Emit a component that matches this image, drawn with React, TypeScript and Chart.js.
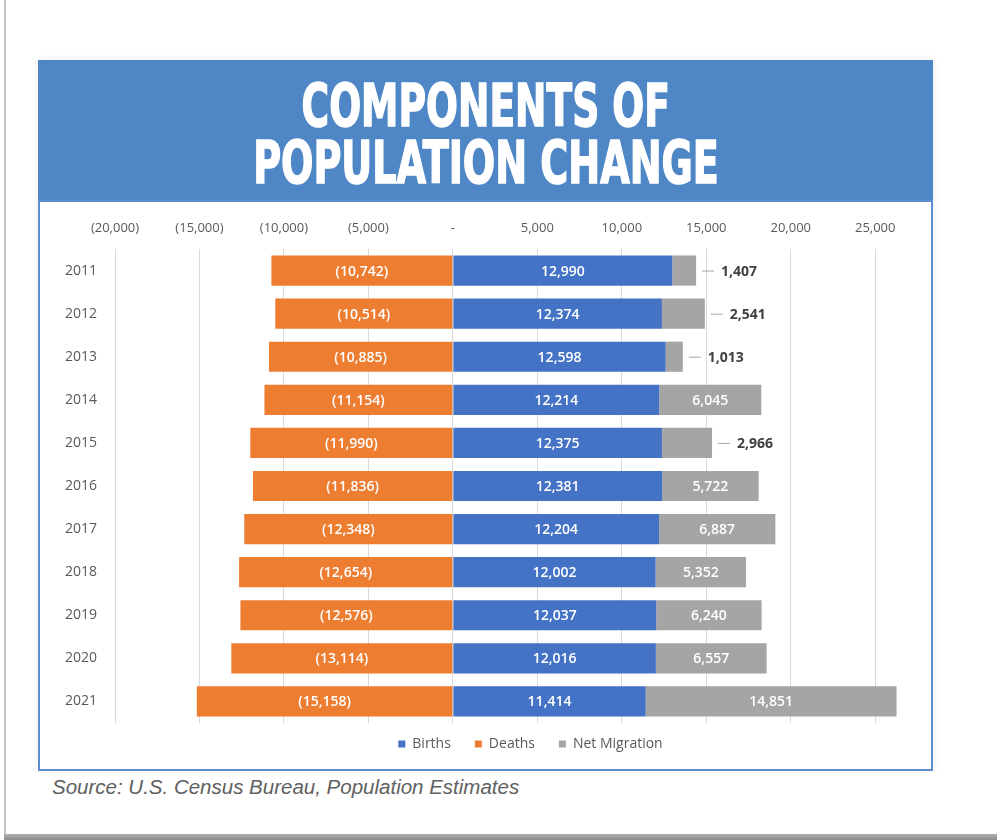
import React, { useEffect, useRef } from "react";
import { Chart, registerables } from "chart.js";

Chart.register(...registerables);

const years = ["2011", "2012", "2013", "2014", "2015", "2016", "2017", "2018", "2019", "2020", "2021"];
const births = [12990, 12374, 12598, 12214, 12375, 12381, 12204, 12002, 12037, 12016, 11414];
const deaths = [-10742, -10514, -10885, -11154, -11990, -11836, -12348, -12654, -12576, -13114, -15158];
const netMigration = [1407, 2541, 1013, 6045, 2966, 5722, 6887, 5352, 6240, 6557, 14851];
const xTickValues = [-20000, -15000, -10000, -5000, 0, 5000, 10000, 15000, 20000, 25000];
const xMin = -20000;
const xMax = 27000;

const fmt = (v: number) => {
  if (v === 0) return "-";
  const s = Math.abs(v).toLocaleString("en-US");
  return v < 0 ? `(${s})` : s;
};

const dataLabelPlugin = {
  id: "barLabels",
  afterDatasetsDraw(chart: any) {
    const ctx = chart.ctx;
    ctx.save();
    chart.data.datasets.forEach((ds: any, di: number) => {
      const meta = chart.getDatasetMeta(di);
      meta.data.forEach((el: any, i: number) => {
        const v = ds.data[i];
        const txt = fmt(v);
        const props = el.getProps(["x", "y", "base"], true);
        const left = Math.min(props.x, props.base);
        const right = Math.max(props.x, props.base);
        const w = right - left;
        ctx.textBaseline = "middle";
        if (ds.outsideBelow && v < ds.outsideBelow) {
          ctx.strokeStyle = "#a6a6a6";
          ctx.lineWidth = 1;
          ctx.beginPath();
          ctx.moveTo(right + 6, props.y + 0.5);
          ctx.lineTo(right + 18, props.y + 0.5);
          ctx.stroke();
          ctx.fillStyle = "#404040";
          ctx.font = "bold 14px 'Open Sans', sans-serif";
          ctx.textAlign = "left";
          ctx.fillText(txt, right + 25, props.y + 1);
        } else if (w > 20) {
          ctx.fillStyle = "#ffffff";
          ctx.font = "600 14px 'Open Sans', sans-serif";
          ctx.textAlign = "center";
          ctx.fillText(txt, (left + right) / 2, props.y + 1);
        }
      });
    });
    ctx.restore();
  },
};

const legendOffsetPlugin = {
  id: "legendOffset",
  afterLayout(chart: any, _args: any, opts: any) {
    const l = chart.legend;
    if (!l) return;
    l.left += opts.dx;
    l.right += opts.dx;
    l.top += opts.dy;
    l.bottom += opts.dy;
  },
};

function PopulationChart() {
  const ref = useRef<HTMLCanvasElement>(null);
  useEffect(() => {
    if (!ref.current) return;
    Chart.defaults.font.family = "'Open Sans', sans-serif";
    const chart = new Chart(ref.current, {
      type: "bar",
      data: {
        labels: years,
        datasets: [
          { label: "Births", data: births, backgroundColor: "#4472c4" },
          { label: "Deaths", data: deaths, backgroundColor: "#ed7d31" },
          { label: "Net Migration", data: netMigration, backgroundColor: "#a5a5a5", outsideBelow: 3500 } as any,
        ],
      },
      options: {
        indexAxis: "y",
        animation: false,
        responsive: false,
        maintainAspectRatio: false,
        datasets: { bar: { barPercentage: 0.7, categoryPercentage: 1 } },
        layout: { padding: { left: 0, right: 21, top: 0, bottom: 0 } },
        scales: {
          x: {
            position: "top",
            stacked: true,
            min: xMin,
            max: xMax,
            ticks: {
              padding: 13,
              color: "#595959",
              font: { size: 13 },
              autoSkip: false,
              callback: (v: any) => fmt(Number(v)),
            },
            afterBuildTicks: (s: any) => {
              s.ticks = xTickValues.map((v) => ({ value: v }));
            },
            grid: { color: "#d9d9d9", drawTicks: false, tickLength: 0 },
            border: { display: false },
            afterFit: (s: any) => {
              s.height = 47;
            },
          },
          y: {
            stacked: true,
            ticks: { padding: 18, color: "#595959", font: { size: 14 } },
            grid: { display: false, drawTicks: false },
            border: { display: false },
            afterFit: (s: any) => {
              s.width = 75;
            },
          },
        },
        plugins: {
          legend: {
            position: "bottom",
            labels: {
              boxWidth: 7,
              boxHeight: 7,
              padding: 24,
              color: "#595959",
              font: { size: 14 },
            },
          },
          legendOffset: { dx: 56, dy: -10 },
          tooltip: { enabled: false },
          title: { display: false },
        },
      },
      plugins: [dataLabelPlugin, legendOffsetPlugin],
    } as any);
    return () => chart.destroy();
  }, []);
  return <canvas ref={ref} width={890} height={569} style={{ display: "block", width: 890, height: 569 }} />;
}

export default function App() {
  const titleLine: React.CSSProperties = {
    position: "absolute",
    left: 0,
    width: "100%",
    textAlign: "center",
    fontFamily: "'Liberation Sans Narrow', 'DejaVu Sans Condensed', sans-serif",
    fontWeight: 700,
    fontSize: 58,
    lineHeight: "58px",
    color: "#ffffff",
    whiteSpace: "nowrap",
    WebkitTextStroke: "1.5px #ffffff",
  };
  const inner = (sx: number): React.CSSProperties => ({
    display: "inline-block",
    transform: `scaleX(${sx})`,
    transformOrigin: "center",
  });
  return (
    <div style={{ position: "absolute", left: 0, top: 0, width: 997, height: 840, overflow: "hidden", background: "#ffffff" }}>
      <div style={{ position: "absolute", left: 4, top: 0, width: 2, height: 836, background: "#c4c4c4" }} />
      <div style={{ position: "absolute", left: 4, top: 834, width: 993, height: 6, background: "linear-gradient(#b0b0b0, #8c8c8c)" }} />
      <div
        style={{
          position: "absolute",
          left: 38,
          top: 60,
          width: 895,
          height: 710,
          boxShadow: "0 0 8px rgba(0,0,0,0.08)",
        }}
      />
      <div style={{ position: "absolute", left: 38, top: 60, width: 895, height: 141, background: "#4f87c6" }}>
        <div style={{ ...titleLine, top: 17 }}>
          <span style={inner(0.72)}>COMPONENTS OF</span>
        </div>
        <div style={{ ...titleLine, top: 74 }}>
          <span style={inner(0.73)}>POPULATION CHANGE</span>
        </div>
      </div>
      <div
        style={{
          position: "absolute",
          left: 38,
          top: 200,
          width: 895,
          height: 571,
          border: "2px solid #5a8ed0",
          boxSizing: "border-box",
          background: "#ffffff",
        }}
      />
      <div style={{ position: "absolute", left: 40, top: 202 }}>
        <PopulationChart />
      </div>
      <div
        style={{
          position: "absolute",
          left: 52,
          top: 775,
          fontFamily: "'Liberation Sans', Arial, sans-serif",
          fontStyle: "italic",
          fontSize: 20.5,
          lineHeight: "24px",
          color: "#606060",
          whiteSpace: "nowrap",
        }}
      >
        Source: U.S. Census Bureau, Population Estimates
      </div>
    </div>
  );
}
